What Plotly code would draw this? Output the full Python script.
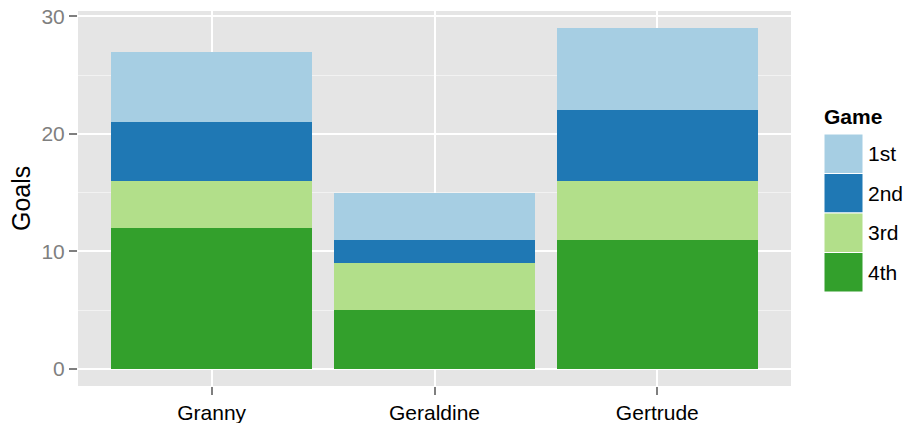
import plotly.graph_objects as go

players = ["Granny", "Geraldine", "Gertrude"]
games = ["1st", "2nd", "3rd", "4th"]
goals_1st = [6, 4, 7]
goals_2nd = [5, 2, 6]
goals_3rd = [4, 4, 5]
goals_4th = [12, 5, 11]
colors = {"1st": "#A6CEE3", "2nd": "#1F78B4", "3rd": "#B2DF8A", "4th": "#33A02C"}
y_ticks = [0, 10, 20, 30]

series = {"1st": goals_1st, "2nd": goals_2nd, "3rd": goals_3rd, "4th": goals_4th}

W, H = 909, 423
L, T = 78, 11
R = W - 791
B = H - 386
pw, ph = W - L - R, H - T - B

fig = go.Figure()
for g in ["4th", "3rd", "2nd", "1st"]:
    fig.add_trace(go.Bar(x=players, y=series[g], name=g, marker_color=colors[g],
                         marker_line_width=0, width=0.9, showlegend=False))

def px_x(p):  # screen pixel -> paper
    return (p - L) / pw

def px_y(p):
    return (T + ph - p) / ph

# y-axis title
fig.add_annotation(x=px_x(21), y=px_y(199), xref="paper", yref="paper", text="Goals",
                   textangle=-90, showarrow=False, xanchor="center", yanchor="middle",
                   font=dict(size=25, color="black"))

# custom legend (ggplot style)
fig.add_annotation(x=px_x(822), y=px_y(117), xref="paper", yref="paper", text="<b>Game</b>",
                   showarrow=False, xanchor="left", yanchor="middle",
                   font=dict(size=21, color="black"))
key_top = 134
key_h = 39.5
for i, g in enumerate(games):
    y0 = key_top + i * key_h
    fig.add_shape(type="rect", xref="paper", yref="paper",
                  x0=px_x(824), x1=px_x(863), y0=px_y(y0 + key_h), y1=px_y(y0),
                  fillcolor=colors[g], line=dict(color="white", width=1))
    fig.add_annotation(x=px_x(866), y=px_y(y0 + key_h / 2), xref="paper", yref="paper",
                       text=g, showarrow=False, xanchor="left", yanchor="middle",
                       font=dict(size=21, color="black"))

fig.update_layout(
    width=W, height=H,
    margin=dict(l=L, r=R, t=T, b=B, pad=0),
    barmode="stack",
    plot_bgcolor="#E5E5E5",
    paper_bgcolor="white",
    font=dict(family="Liberation Sans, Arial, sans-serif"),
    showlegend=False,
    xaxis=dict(range=[-0.6, 2.6], showgrid=True, gridcolor="white", gridwidth=2,
               ticks="outside", ticklen=8, tickwidth=2, tickcolor="#7F7F7F",
               tickfont=dict(size=21, color="black"), zeroline=False, showline=False,
               automargin=False, ticklabeloverflow="allow"),
    yaxis=dict(range=[-1.45, 30.45], tickvals=y_ticks, showgrid=True, gridcolor="white",
               gridwidth=2, ticks="outside", ticklen=8, tickwidth=2, tickcolor="#7F7F7F",
               tickfont=dict(size=21, color="#7F7F7F"), zeroline=False, showline=False,
               minor=dict(tickvals=[5, 15, 25], showgrid=True, gridcolor="#F2F2F2", gridwidth=1, ticks=""),
               automargin=False, ticklabeloverflow="allow"),
)

fig.write_html("out.html", config={"displayModeBar": False},
               post_script="document.body.style.margin='0';document.body.style.overflow='hidden';")
